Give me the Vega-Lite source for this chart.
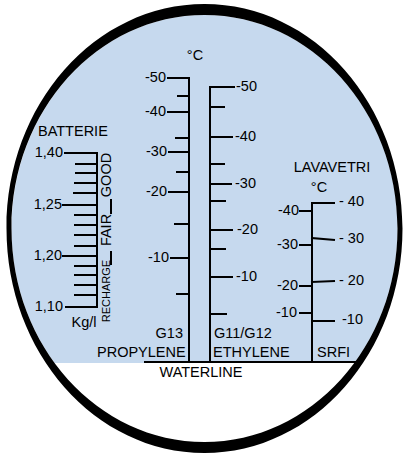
{
  "$schema": "https://vega.github.io/schema/vega-lite/v6.json",
  "width": 404,
  "height": 454,
  "padding": 0,
  "autosize": {"type": "none"},
  "background": "white",
  "config": {"view": {"stroke": null}},
  "datasets": {
    "ellipse": [{"x": 204.5, "y": 228.5}],
    "water": [{"x": 0, "x2": 404, "y": 363, "y2": 454}],
    "segs": [
      {"x": 189, "y": 78, "x2": 189, "y2": 362},
      {"x": 168, "y": 78, "x2": 189, "y2": 78},
      {"x": 178, "y": 96, "x2": 189, "y2": 96},
      {"x": 168, "y": 112, "x2": 189, "y2": 112},
      {"x": 176, "y": 138, "x2": 189, "y2": 138},
      {"x": 169, "y": 152, "x2": 189, "y2": 152},
      {"x": 177, "y": 172, "x2": 189, "y2": 172},
      {"x": 169, "y": 192, "x2": 189, "y2": 192},
      {"x": 175, "y": 224, "x2": 189, "y2": 224},
      {"x": 171, "y": 258, "x2": 189, "y2": 258},
      {"x": 177, "y": 294, "x2": 189, "y2": 294},
      {"x": 210, "y": 87, "x2": 210, "y2": 362},
      {"x": 210, "y": 87, "x2": 234, "y2": 87},
      {"x": 210, "y": 107, "x2": 224, "y2": 107},
      {"x": 210, "y": 137, "x2": 232, "y2": 137},
      {"x": 210, "y": 164, "x2": 224, "y2": 164},
      {"x": 210, "y": 184, "x2": 231, "y2": 184},
      {"x": 210, "y": 201, "x2": 225, "y2": 201},
      {"x": 210, "y": 230, "x2": 232, "y2": 230},
      {"x": 210, "y": 249, "x2": 225, "y2": 249},
      {"x": 210, "y": 277, "x2": 232, "y2": 277},
      {"x": 210, "y": 314, "x2": 226, "y2": 314},
      {"x": 312, "y": 203, "x2": 312, "y2": 362},
      {"x": 312, "y": 203, "x2": 334, "y2": 203},
      {"x": 312, "y": 238, "x2": 334, "y2": 240},
      {"x": 312, "y": 282, "x2": 334, "y2": 281},
      {"x": 312, "y": 321, "x2": 334, "y2": 321},
      {"x": 300, "y": 211, "x2": 312, "y2": 211},
      {"x": 300, "y": 245, "x2": 312, "y2": 245},
      {"x": 300, "y": 286, "x2": 312, "y2": 286},
      {"x": 300, "y": 313, "x2": 312, "y2": 313},
      {"x": 97, "y": 153, "x2": 97, "y2": 307},
      {"x": 65, "y": 153, "x2": 97, "y2": 153},
      {"x": 76, "y": 164, "x2": 97, "y2": 164},
      {"x": 76, "y": 173, "x2": 97, "y2": 173},
      {"x": 75, "y": 183, "x2": 97, "y2": 183},
      {"x": 74, "y": 193, "x2": 97, "y2": 193},
      {"x": 63, "y": 205, "x2": 97, "y2": 205},
      {"x": 75, "y": 215, "x2": 97, "y2": 215},
      {"x": 75, "y": 225, "x2": 97, "y2": 225},
      {"x": 75, "y": 235, "x2": 97, "y2": 235},
      {"x": 75, "y": 246, "x2": 97, "y2": 246},
      {"x": 63, "y": 256, "x2": 97, "y2": 256},
      {"x": 75, "y": 266, "x2": 97, "y2": 266},
      {"x": 75, "y": 275, "x2": 97, "y2": 275},
      {"x": 75, "y": 285, "x2": 97, "y2": 285},
      {"x": 75, "y": 295, "x2": 97, "y2": 295},
      {"x": 66, "y": 307, "x2": 97, "y2": 307},
      {"x": 111, "y": 200, "x2": 111, "y2": 213},
      {"x": 111, "y": 252, "x2": 111, "y2": 264},
      {"x": 145, "y": 362, "x2": 360, "y2": 362}
    ],
    "labelsRight": [
      {"x": 166, "y": 78, "t": "-50"},
      {"x": 166, "y": 112, "t": "-40"},
      {"x": 167, "y": 152, "t": "-30"},
      {"x": 167, "y": 192, "t": "-20"},
      {"x": 169, "y": 258, "t": "-10"},
      {"x": 63, "y": 153, "t": "1,40"},
      {"x": 62, "y": 205, "t": "1,25"},
      {"x": 62, "y": 256, "t": "1,20"},
      {"x": 63, "y": 307, "t": "1,10"},
      {"x": 299, "y": 211, "t": "-40"},
      {"x": 298, "y": 245, "t": "-30"},
      {"x": 298, "y": 286, "t": "-20"},
      {"x": 297, "y": 313, "t": "-10"},
      {"x": 183, "y": 334, "t": "G13"}
    ],
    "labelsLeft": [
      {"x": 236, "y": 87, "t": "-50"},
      {"x": 235, "y": 137, "t": "-40"},
      {"x": 235, "y": 184, "t": "-30"},
      {"x": 237, "y": 230, "t": "-20"},
      {"x": 236, "y": 277, "t": "-10"},
      {"x": 339, "y": 202, "t": "- 40"},
      {"x": 339, "y": 239, "t": "- 30"},
      {"x": 339, "y": 281, "t": "- 20"},
      {"x": 342, "y": 320, "t": "-10"},
      {"x": 38, "y": 132, "t": "BATTERIE"},
      {"x": 214, "y": 334, "t": "G11/G12"},
      {"x": 97, "y": 353, "t": "PROPYLENE"},
      {"x": 213, "y": 353, "t": "ETHYLENE"},
      {"x": 317, "y": 353, "t": "SRFI"}
    ],
    "labelsCenter": [
      {"x": 195, "y": 56, "t": "°C"},
      {"x": 332, "y": 168, "t": "LAVAVETRI"},
      {"x": 319, "y": 188, "t": "°C"},
      {"x": 201, "y": 373, "t": "WATERLINE"},
      {"x": 84, "y": 323, "t": "Kg/l"}
    ],
    "labelsVertical": [
      {"x": 107, "y": 175, "t": "GOOD"},
      {"x": 107, "y": 230, "t": "FAIR"}
    ],
    "labelsVerticalSmall": [
      {"x": 107, "y": 291, "t": "RECHARGE"}
    ]
  },
  "encoding": {
    "x": {"field": "x", "type": "quantitative", "scale": {"domain": [0, 404], "nice": false, "zero": false}, "axis": null},
    "y": {"field": "y", "type": "quantitative", "scale": {"domain": [0, 454], "nice": false, "zero": false, "reverse": true}, "axis": null}
  },
  "layer": [
    {
      "data": {"name": "ellipse"},
      "mark": {"type": "point", "shape": "M0.9747,0 C0.9747,0.5955 0.5383,1.0783 0,1.0783 C-0.5383,1.0783 -0.9747,0.5955 -0.9747,0 C-0.9747,-0.5955 -0.5383,-1.0783 0,-1.0783 C0.5383,-1.0783 0.9747,-0.5955 0.9747,0 Z", "size": 156816, "filled": true, "color": "#c6d9ee", "opacity": 1, "strokeWidth": 0}
    },
    {
      "data": {"name": "water"},
      "mark": {"type": "rect", "color": "white"},
      "encoding": {"x2": {"field": "x2"}, "y2": {"field": "y2"}}
    },
    {
      "data": {"name": "ellipse"},
      "mark": {"type": "point", "shape": "M1,0 C1,0.6262 0.5523,1.1338 0,1.1338 C-0.5523,1.1338 -1,0.6262 -1,0 C-1,-0.6262 -0.5523,-1.1338 0,-1.1338 C0.5523,-1.1338 1,-0.6262 1,0 Z M0.9747,0 C0.9747,-0.5955 0.5383,-1.0783 0,-1.0783 C-0.5383,-1.0783 -0.9747,-0.5955 -0.9747,0 C-0.9747,0.5955 -0.5383,1.0783 0,1.0783 C0.5383,1.0783 0.9747,0.5955 0.9747,0 Z", "size": 156816, "filled": true, "color": "black", "opacity": 1, "strokeWidth": 0}
    },
    {
      "data": {"name": "segs"},
      "mark": {"type": "rule", "color": "black", "strokeWidth": 2, "strokeCap": "square"},
      "encoding": {"x2": {"field": "x2"}, "y2": {"field": "y2"}}
    },
    {
      "data": {"name": "labelsRight"},
      "mark": {"type": "text", "align": "right", "baseline": "middle", "font": "Liberation Sans", "fontSize": 14.5, "color": "black"},
      "encoding": {"text": {"field": "t"}}
    },
    {
      "data": {"name": "labelsLeft"},
      "mark": {"type": "text", "align": "left", "baseline": "middle", "font": "Liberation Sans", "fontSize": 14.5, "color": "black"},
      "encoding": {"text": {"field": "t"}}
    },
    {
      "data": {"name": "labelsCenter"},
      "mark": {"type": "text", "align": "center", "baseline": "middle", "font": "Liberation Sans", "fontSize": 14.5, "color": "black"},
      "encoding": {"text": {"field": "t"}}
    },
    {
      "data": {"name": "labelsVertical"},
      "mark": {"type": "text", "align": "center", "baseline": "middle", "angle": 270, "font": "Liberation Sans", "fontSize": 14.5, "color": "black"},
      "encoding": {"text": {"field": "t"}}
    },
    {
      "data": {"name": "labelsVerticalSmall"},
      "mark": {"type": "text", "align": "center", "baseline": "middle", "angle": 270, "font": "Liberation Sans", "fontSize": 11, "color": "black"},
      "encoding": {"text": {"field": "t"}}
    }
  ]
}
